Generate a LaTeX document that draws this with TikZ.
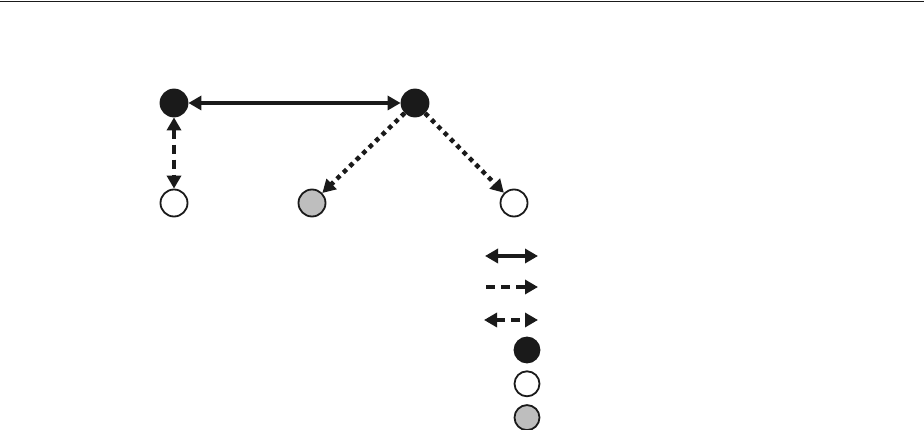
\documentclass[tikz,border=0pt]{standalone}
\usepackage{tikz}
\usetikzlibrary{arrows.meta,positioning}
\definecolor{InkBlack}{HTML}{1A1A1A}
\definecolor{SoftGray}{HTML}{BEBEBE}
\tikzset{
  % Base circle
  CN/.style={circle,minimum size=27pt,inner sep=0pt,draw=InkBlack,line width=1.8pt},
  % Colour variants
  cK/.style={CN,fill=InkBlack},
  cW/.style={CN,fill=white},
  cG/.style={CN,fill=SoftGray},
  % Line variants
  lnS/.style={{Triangle[length=13pt,width=14pt]}-{Triangle[length=13pt,width=14pt]},line width=3.3pt,draw=InkBlack},
  lnD/.style={-{Triangle[length=13pt,width=14pt]},line width=4.2pt,draw=InkBlack,dash pattern=on 9pt off 6pt},
  lnDD/.style={lnD,{Triangle[length=13pt,width=14pt]}-{Triangle[length=13pt,width=14pt]}},
  lnP/.style={-{Triangle[length=13pt,width=14pt]},line width=4.5pt,draw=InkBlack,dash pattern=on 4.5pt off 4.5pt}
}
\begin{document}
\begin{tikzpicture}[x=1pt,y=-1pt]
  \useasboundingbox (0,0) rectangle (924,430);
  \draw[line width=1.5pt,InkBlack] (0,1.5) -- (924,1.5);
  % main graph
  \node[cK] (hubL)  at (174,103) {};
  \node[cK] (hubR)  at (415,103) {};
  \node[cW] (leafL) at (174,203) {};
  \node[cG] (leafM) at (312,203) {};
  \node[cW] (leafR) at (514,203) {};
  \draw[lnS]  (hubL) -- (hubR);
  \draw[lnDD] (hubL) -- (leafL);
  \draw[lnP]  (hubR) -- (leafM);
  \draw[lnP]  (hubR) -- (leafR);
  % legend
  \coordinate (kS1) at (485,256);  \coordinate (kS2) at (538,256);
  \coordinate (kD1) at (486,287);  \coordinate (kD2) at (538,287);
  \coordinate (kB1) at (484,320);  \coordinate (kB2) at (538,320);
  \draw[lnS]  (kS1) -- (kS2);
  \draw[lnD]  (kD1) -- (kD2);
  \draw[lnDD] (kB1) -- (kB2);
  \node[cK,minimum size=25pt] (keyK) at (527,350) {};
  \node[cW,minimum size=25pt,below=7pt of keyK] (keyW) {};
  \node[cG,minimum size=25pt,below=7pt of keyW] (keyG) {};
\end{tikzpicture}
\end{document}
